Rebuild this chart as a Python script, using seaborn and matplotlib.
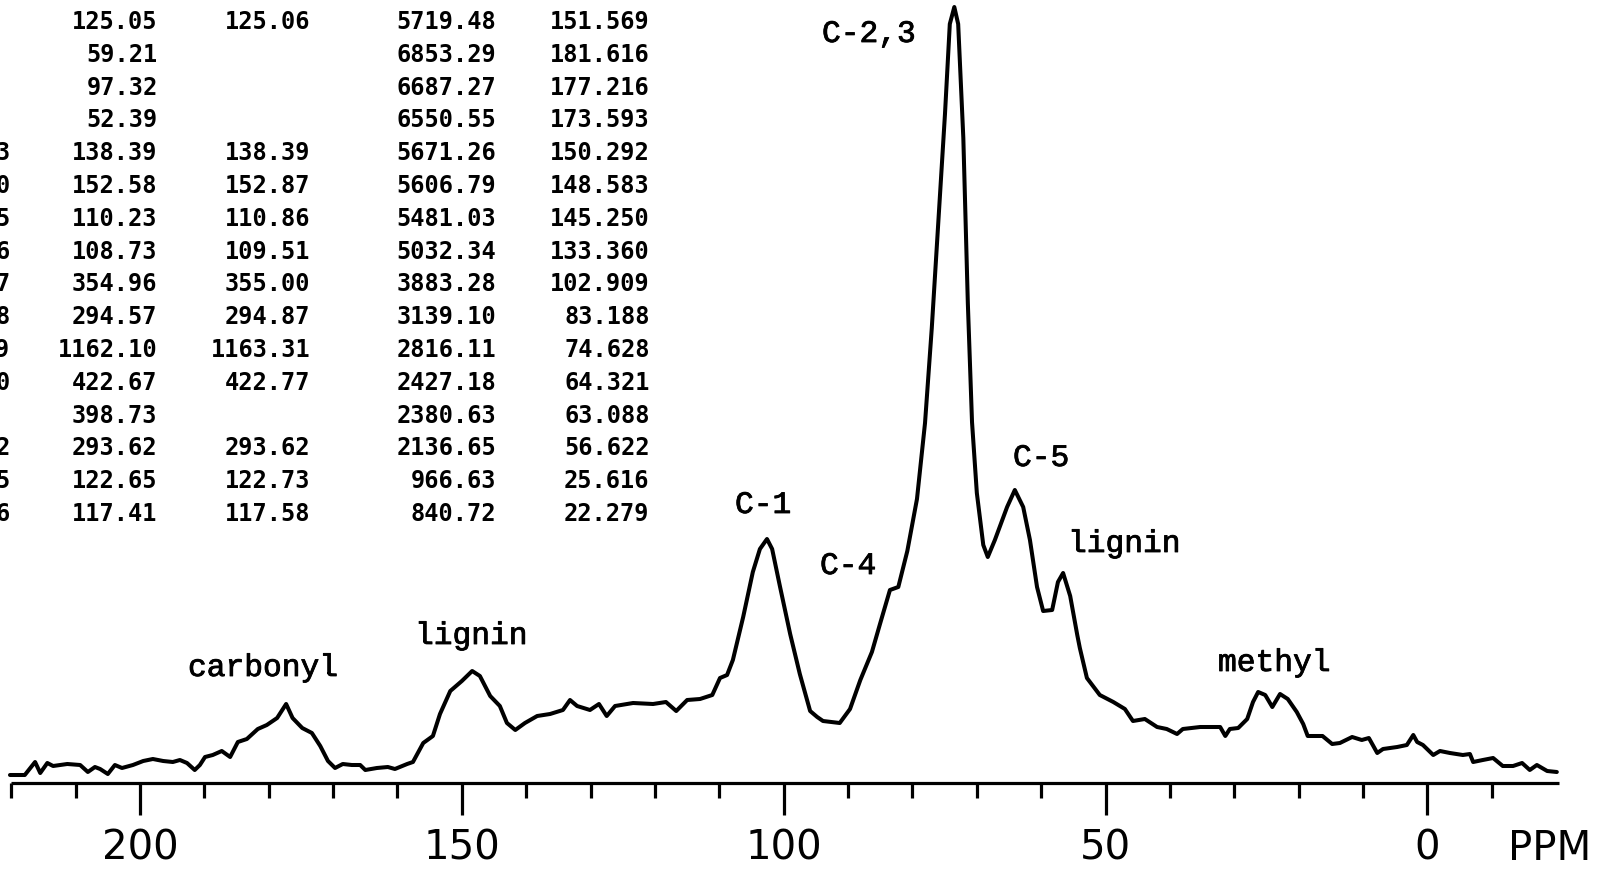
import matplotlib
matplotlib.use("Agg")
import matplotlib.pyplot as plt
import matplotlib.patheffects as pe
import seaborn as sns
import pandas as pd

# ---------------- data ----------------
# chemical shift (ppm) and signal height (arbitrary units above the baseline axis)
shift_ppm = [220.2, 217.9, 216.3, 215.5, 214.4, 213.5, 211.3, 209.3, 208.1, 207.0,
             206.2, 205.0, 203.9, 202.8, 201.1, 199.5, 198.0, 196.4, 194.9, 193.8,
             192.7, 191.5, 190.7, 189.9, 188.7, 187.3, 186.0, 184.8, 183.4, 181.7,
             180.3, 178.7, 177.3, 176.3, 174.8, 173.3, 172.0, 170.8, 169.7, 168.5,
             167.1, 165.8, 165.0, 163.2, 161.5, 160.4, 158.5, 157.6, 156.0, 154.5,
             153.4, 151.8, 150.0, 148.4, 147.2, 145.6, 144.1, 143.0, 141.7, 140.2,
             138.3, 136.3, 134.3, 133.2, 132.1, 130.1, 128.7, 127.5, 126.2, 123.4,
             120.3, 118.3, 116.7, 115.0, 113.0, 111.1, 109.9, 108.8, 107.9, 106.3,
             104.8, 103.7, 102.6, 101.8, 100.6, 99.0, 97.5, 95.9, 94.8, 93.9,
             91.3, 89.7, 88.1, 86.3, 85.0, 83.5, 82.2, 80.8, 79.3, 78.05,
             77.0, 76.0, 74.95, 74.2, 73.5, 72.9, 72.1, 71.4, 70.75, 70.0,
             69.0, 68.3, 67.2, 65.3, 64.1, 62.8, 61.75, 60.65, 59.7, 58.3,
             57.4, 56.6, 55.5, 54.4, 54.0, 52.9, 50.9, 48.8, 47.0, 45.75,
             43.9, 42.0, 40.5, 38.9, 38.0, 35.3, 32.2, 31.4, 30.7, 29.4,
             28.0, 27.1, 26.3, 25.2, 24.1, 22.9, 21.7, 20.3, 19.3, 18.6,
             16.3, 14.8, 13.6, 11.7, 10.2, 9.1, 7.8, 6.9, 4.7, 3.2,
             2.2, 1.6, 0.7, -0.9, -1.95, -3.5, -5.5, -6.6, -7.1, -8.6,
             -10.2, -11.7, -13.3, -14.7, -15.9, -17.0, -18.6, -20.1]
intensity = [8, 8, 21, 10, 20, 17, 19, 18, 11, 16,
             14, 9, 18, 15, 18, 22, 24, 22, 21, 23,
             20, 13, 18, 26, 28, 32, 26, 41, 44, 54,
             58, 65, 79, 65, 55, 50, 37, 22, 15, 19,
             18, 18, 13, 15, 16, 14, 19, 21, 40, 47,
             69, 92, 102, 112, 107, 87, 77, 60, 53, 60,
             67, 69, 73, 83, 77, 73, 79, 67, 77, 80,
             79, 81, 72, 83, 84, 88, 105, 108, 123, 166,
             211, 234, 244, 234, 197, 149, 109, 72, 66, 62,
             60, 74, 103, 131, 160, 193, 196, 232, 284, 360,
             455, 560, 669, 759, 776, 759, 645, 480, 361, 290,
             238, 226, 243, 276, 293, 276, 243, 196, 172, 173,
             201, 210, 187, 148, 135, 105, 88, 81, 74, 62,
             64, 56, 54, 49, 54, 56, 56, 47, 54, 55,
             64, 81, 91, 88, 76, 89, 84, 71, 59, 47,
             47, 39, 40, 46, 43, 45, 30, 34, 36, 38,
             48, 41, 38, 28, 32, 30, 28, 29, 21, 23,
             25, 17, 17, 20, 13, 18, 12, 11]

# peak assignments
peak_labels = ["C-2,3", "C-5", "lignin", "C-1", "C-4", "lignin", "carbonyl", "methyl"]

# axis
major_ticks = [200, 150, 100, 50, 0]
minor_ticks = [220, 210, 190, 180, 170, 160, 140, 130, 120, 110, 90, 80, 70,
               60, 40, 30, 20, 10, -10]
axis_start, axis_end = 220, -20.4
axis_unit = "PPM"

# peak table printed by the spectrometer (left part cropped in the original)
tab_index = ["", "", "", "", "3", "0", "5", "6", "7", "8", "9", "0", "", "2", "5", "6"]
tab_height = ["125.05", "59.21", "97.32", "52.39", "138.39", "152.58", "110.23",
              "108.73", "354.96", "294.57", "1162.10", "422.67", "398.73",
              "293.62", "122.65", "117.41"]
tab_height2 = ["125.06", "", "", "", "138.39", "152.87", "110.86", "109.51",
               "355.00", "294.87", "1163.31", "422.77", "", "293.62", "122.73",
               "117.58"]
tab_freq = ["5719.48", "6853.29", "6687.27", "6550.55", "5671.26", "5606.79",
            "5481.03", "5032.34", "3883.28", "3139.10", "2816.11", "2427.18",
            "2380.63", "2136.65", "966.63", "840.72"]
tab_ppm = ["151.569", "181.616", "177.216", "173.593", "150.292", "148.583",
           "145.250", "133.360", "102.909", "83.188", "74.628", "64.321",
           "63.088", "56.622", "25.616", "22.279"]

# ---------------- drawing ----------------
W, H = 1597, 879
sns.set_style("white")
plt.rcParams["font.family"] = ["DejaVu Sans"]

fig = plt.figure(figsize=(W / 100, H / 100), dpi=100)
ax = fig.add_axes([0, 0, 1, 1])

df = pd.DataFrame({"ppm": shift_ppm, "signal": intensity})
sns.lineplot(data=df, x="ppm", y="signal", ax=ax, color="black", linewidth=2.9,
             sort=False, estimator=None, errorbar=None)
for ln in ax.lines:
    ln.set_solid_joinstyle("round")
    ln.set_solid_capstyle("round")

ax.set_xlim(221.75, -26.34)
ax.set_ylim(-95, 784)
ax.axis("off")

# baseline axis with ticks
ax.plot([axis_start, axis_end], [0, 0], color="black", linewidth=2.3,
        solid_capstyle="butt")
ax.vlines(major_ticks, -32, 0, color="black", linewidth=2.3)
ax.vlines(minor_ticks, -15, 0, color="black", linewidth=2.3)
for t in major_ticks:
    ax.text(t, -76, f"{t}", ha="center", va="baseline", fontsize=29,
            family="DejaVu Sans", color="black")
ax.text(-19.0, -76, axis_unit, ha="center", va="baseline", fontsize=29,
        family="DejaVu Sans", color="black")


def fpos(x, y):
    return x / W, 1 - y / H


# peak labels (left x, baseline y in pixels)
label_pos = [(822, 43), (1013, 467), (1068, 553), (735, 514), (820, 575),
             (415, 645), (188, 677), (1218, 672)]
for txt, (lx, ly) in zip(peak_labels, label_pos):
    fig.text(*fpos(lx, ly), txt, ha="left", va="baseline", fontsize=22.5,
             family="Liberation Mono", color="black",
             path_effects=[pe.withStroke(linewidth=0.6, foreground="black")])

# peak table
col_right = [9.5, 157.5, 310.5, 496.5, 649.5]
columns = [tab_index, tab_height, tab_height2, tab_freq, tab_ppm]
for i in range(len(tab_ppm)):
    yb = 29.0 + 32.8 * i
    for cx, col in zip(col_right, columns):
        if col[i]:
            fig.text(*fpos(cx, yb), col[i], ha="right", va="baseline",
                     fontsize=17, family="DejaVu Sans Mono", weight="bold",
                     color="black")

fig.savefig("out.png", dpi=100, facecolor="white")
